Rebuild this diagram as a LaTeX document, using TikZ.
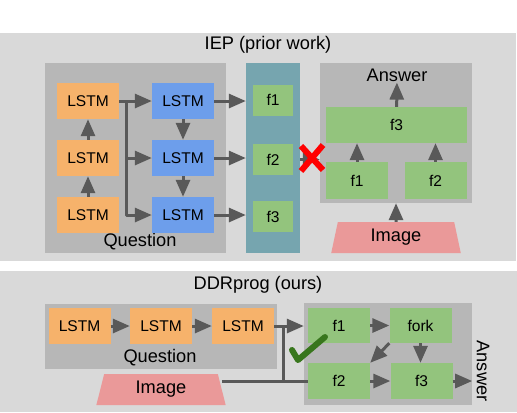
\documentclass[tikz,border=0pt]{standalone}
\usepackage{fontspec}
\setmainfont{Liberation Sans}
\usetikzlibrary{arrows.meta,shapes.geometric}
\definecolor{panelgray}{HTML}{D9D9D9}
\definecolor{boxgray}{HTML}{B7B7B7}
\definecolor{lstmorange}{HTML}{F6B26B}
\definecolor{lstmblue}{HTML}{6D9EEB}
\definecolor{modgreen}{HTML}{93C47D}
\definecolor{progteal}{HTML}{76A5AF}
\definecolor{imgpink}{HTML}{EA9999}
\definecolor{arrowgray}{HTML}{595959}
\definecolor{okgreen}{HTML}{38761D}
\begin{document}
\begin{tikzpicture}[x=1bp, y=-1bp, line join=round,
	small/.style={font=\fontsize{15.6}{18}\selectfont},
	big/.style={font=\fontsize{18.3}{21}\selectfont},
	box/.style={small, inner sep=0pt, minimum width=62bp, minimum height=36bp},
	lstm/.style={box, fill=lstmorange},
	enc/.style={box, fill=lstmblue},
	fmod/.style={box, fill=modgreen},
	inner/.style={fill=boxgray, inner sep=0pt},
	image/.style={big, trapezium, trapezium stretches=true, trapezium angle=78, fill=imgpink, inner sep=0pt, minimum width=130bp, minimum height=31bp},
	wire/.style={draw=arrowgray, line width=3bp},
	arr/.style={wire, -{Triangle[length=17bp,width=14bp]}}]
	\useasboundingbox (0,0) rectangle (517,412);
	\fill[panelgray] (0,33) rectangle (516,261);
	\fill[panelgray] (0,271) rectangle (517,412);
	\node[big] (t1) at (268,45) {IEP (prior work)};
	\node[big] (t2) at (258,285) {DDRprog (ours)};
	% IEP
	\node[inner, minimum width=181bp, minimum height=190bp] (qbox) at (135.5,158) {};
	\node[big] (qlab) at (140,242) {Question};
	\node[fill=progteal, inner sep=0pt, minimum width=54bp, minimum height=190bp] (col) at (273,158) {};
	\foreach \i/\y in {1/101,2/158,3/215} {
		\node[lstm] (q\i) at (88,\y) {LSTM};
		\node[enc] (b\i) at (183,\y) {LSTM};
	}
	\foreach \i/\y in {1/100,2/159.5,3/216.5}
		\node[fmod, minimum width=40bp, minimum height=31bp] (p\i) at (273,\y) {f\i};
	\coordinate (br) at (126,101);
	\draw[arr] (q2) -- (q1);
	\draw[arr] (q3) -- (q2);
	\draw[arr] (q1) -- (b1);
	\foreach \i in {2,3} \draw[arr] (br) |- (b\i.west);
	\draw[arr] (b1) -- (b2);
	\draw[arr] (b2) -- (b3);
	\foreach \i in {1,2,3} \draw[arr] (b\i) -- (b\i -| col.west);
	\node[inner, minimum width=152bp, minimum height=140bp] (ans) at (396,133) {};
	\node[big, inner sep=1bp] (alab) at (397,75) {Answer};
	\node[fmod, minimum width=141bp] (a3) at (396.5,125) {f3};
	\node[fmod, minimum height=37bp] (a1) at (357,180.5) {f1};
	\node[fmod, minimum height=37bp] (a2) at (435.5,180.5) {f2};
	\node[image, trapezium angle=80] (img1) at (396,237.5) {Image};
	\draw[arr] (a3) -- (alab);
	\draw[arr] (a1) -- (a1 |- a3.south);
	\draw[arr] (a2) -- (a2 |- a3.south);
	\draw[arr] (img1) -- (img1 |- ans.south);
	\draw[arr] (col.east |- p2) -- (ans.west |- p2);
	\draw[red, line width=6bp] (301,146) -- (323,170) (323,145) -- (301,171);
	% DDRprog
	\node[inner, minimum width=232bp, minimum height=65bp] (qq) at (161,336) {};
	\node[big] (qqlab) at (160,358) {Question};
	\foreach \i/\x in {1/79.5,2/161,3/243}
		\node[lstm] (l\i) at (\x,326) {LSTM};
	\draw[arr] (l1) -- (l2);
	\draw[arr] (l2) -- (l3);
	\node[image] (img2) at (161,389.5) {Image};
	\node[inner, minimum width=168bp, minimum height=102bp] (dd) at (388,354) {};
	\node[big, rotate=-90] (dlab) at (483,371) {Answer};
	\node[fmod, minimum height=35bp] (d1) at (339,325.5) {f1};
	\node[fmod, minimum height=35bp] (fork) at (420.5,325.5) {fork};
	\node[fmod] (d2) at (339,381) {f2};
	\node[fmod] (d3) at (421.5,381) {f3};
	\coordinate (jn) at (283,326);
	\draw[arr] (l3) -- (dd.west |- l3);
	\draw[wire] (jn) -- (jn |- d2);
	\draw[wire] (img2.east |- d2) -- (d2.west);
	\draw[arr] (d1) -- (fork);
	\draw[arr] (fork) -- (fork |- d3.north);
	\draw[arr] (fork.south west) -- (d2.north east);
	\draw[arr] (d2) -- (d3);
	\draw[arr] (d3) -- (dd.east |- d3);
	\draw[okgreen, line width=6bp, line cap=round] (292,350) -- (298,360) -- (325,337);
\end{tikzpicture}
\end{document}
